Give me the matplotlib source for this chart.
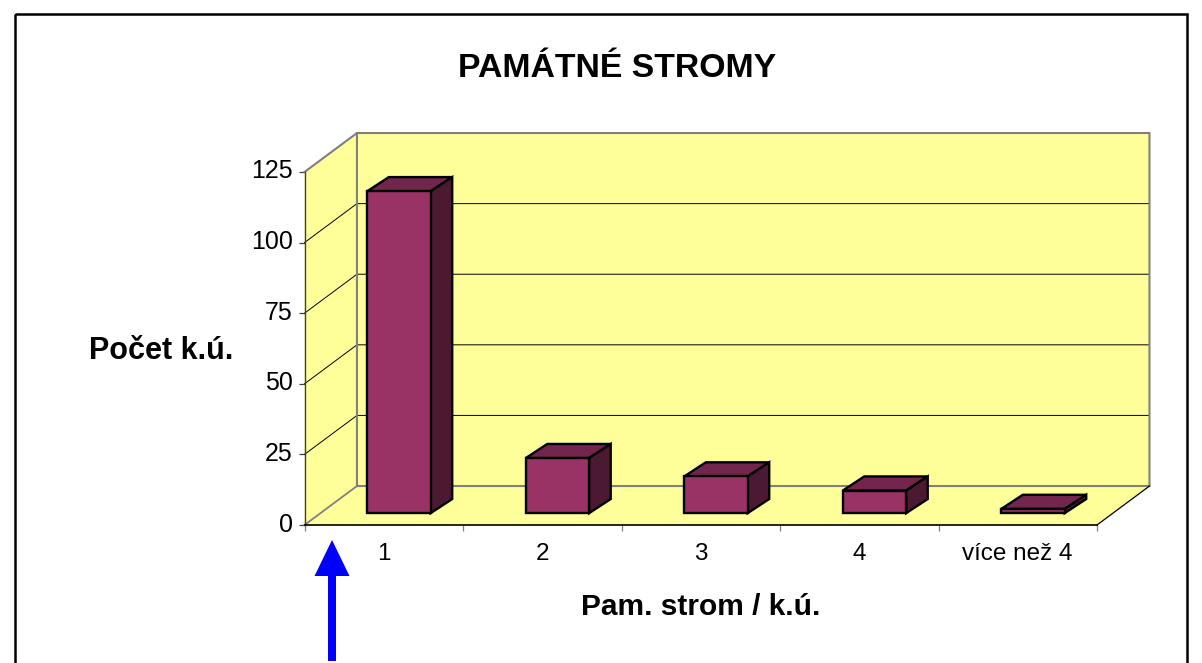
import matplotlib
matplotlib.use('Agg')
import matplotlib.pyplot as plt
from matplotlib.patches import Polygon, FancyArrow, Rectangle
from matplotlib.transforms import ScaledTranslation

plt.rcParams['font.family'] = ['Liberation Sans', 'DejaVu Sans']

categories = ['1', '2', '3', '4', 'více než 4']
values = [114, 19.5, 13, 8, 1.5]
y_ticks = [0, 25, 50, 75, 100, 125]

title = 'PAMÁTNÉ STROMY'
x_title = 'Pam. strom / k.ú.'
y_title = 'Počet k.ú.'

WALL = '#FFFF99'
GREY = '#808080'
FRONT = '#993366'
TOP = '#73264D'
SIDE = '#4C1933'

# oblique offsets in data units: depth of the floor, then of a bar inside it
DX, DY = 0.331, 13.8
BAR_X, BAR_Y = 0.136, 5.0
GAP_X, GAP_Y = 0.096, 4.2
BAR_W = 0.40

fig = plt.figure(figsize=(12.02, 6.63), dpi=100, facecolor='white')

# overlay in pixels for the frame, the arrow and the titles
bg = fig.add_axes([0, 0, 1, 1], zorder=0)
bg.set_xlim(0, 1202)
bg.set_ylim(663, 0)
bg.axis('off')
bg.add_patch(Rectangle((15, 14), 1172, 670, fill=False, ec='black', lw=1.8))
bg.add_patch(FancyArrow(332, 661, 0, -121, width=8, head_width=35, head_length=36,
                        length_includes_head=True, color='#0000FF', lw=0))
bg.text(617, 68.5, title, ha='center', va='center', fontsize=24.3, fontweight='bold')
bg.text(701, 607, x_title, ha='center', va='center', fontsize=21.5, fontweight='bold')
bg.text(161, 351, y_title, ha='center', va='center', fontsize=22, fontweight='bold')

ax = fig.add_axes([304.5 / 1202, 138 / 663, 792.5 / 1202, 353 / 663], zorder=1)
ax.patch.set_visible(False)
ax.set_xlim(0, len(categories))
ax.set_ylim(0, y_ticks[-1])
top = y_ticks[-1]
n = len(categories)


def poly(points, face, edge='none', lw=0.0, z=1):
    ax.add_patch(Polygon(points, closed=True, fc=face, ec=edge, lw=lw, zorder=z,
                         clip_on=False, joinstyle='miter'))


# walls and floor
poly([(DX, DY), (n + DX, DY), (n + DX, top + DY), (DX, top + DY)], WALL)
poly([(0, 0), (DX, DY), (DX, top + DY), (0, top)], WALL)
poly([(0, 0), (n, 0), (n + DX, DY), (DX, DY)], WALL)

for v in y_ticks[1:-1]:
    ax.plot([0, DX, n + DX], [v, v + DY, v + DY], color='black', lw=0.7, zorder=2,
            clip_on=False)

ax.plot([0, DX, DX, n + DX, n + DX, DX], [top, top + DY, DY, DY, top + DY, top + DY],
        color=GREY, lw=1.5, zorder=2, clip_on=False, solid_joinstyle='miter')
ax.plot([0, DX], [0, DY], color=GREY, lw=1.3, zorder=2, clip_on=False)
ax.plot([n, n + DX], [0, DY], color='black', lw=0.9, zorder=2, clip_on=False)

# bars
for i, v in enumerate(values):
    x0 = i + 0.5 - BAR_W / 2 + GAP_X
    x1 = x0 + BAR_W
    y0 = GAP_Y
    y1 = y0 + v
    poly([(x0, y1), (x1, y1), (x1 + BAR_X, y1 + BAR_Y), (x0 + BAR_X, y1 + BAR_Y)],
         TOP, 'black', 1.7, 3)
    poly([(x1, y0), (x1 + BAR_X, y0 + BAR_Y), (x1 + BAR_X, y1 + BAR_Y), (x1, y1)],
         SIDE, 'black', 1.7, 3)
    poly([(x0, y0), (x1, y0), (x1, y1), (x0, y1)], FRONT, 'black', 1.7, 4)

for side in ['top', 'right']:
    ax.spines[side].set_visible(False)
ax.spines['left'].set_color('#404040')
ax.spines['left'].set_linewidth(1.0)
ax.spines['bottom'].set_linewidth(1.2)
ax.spines['left'].set_zorder(5)
ax.spines['bottom'].set_zorder(5)

ax.set_yticks(y_ticks)
ax.tick_params(axis='y', length=4.5, width=0.9, color='#404040', labelsize=18, pad=4)
# labels sit a little above their ticks in the original
lift = ScaledTranslation(0, 3 / 100, fig.dpi_scale_trans)
for lbl in ax.get_yticklabels():
    lbl.set_transform(lbl.get_transform() + lift)
ax.set_xticks(range(n + 1))
ax.set_xticklabels([])
ax.tick_params(axis='x', which='major', length=4.5, width=0.9, color=GREY)
ax.set_xticks([i + 0.5 for i in range(n)], minor=True)
ax.set_xticklabels(categories, minor=True)
ax.tick_params(axis='x', which='minor', length=0, labelsize=17.5, pad=13)

fig.savefig('out.png', dpi=100)
